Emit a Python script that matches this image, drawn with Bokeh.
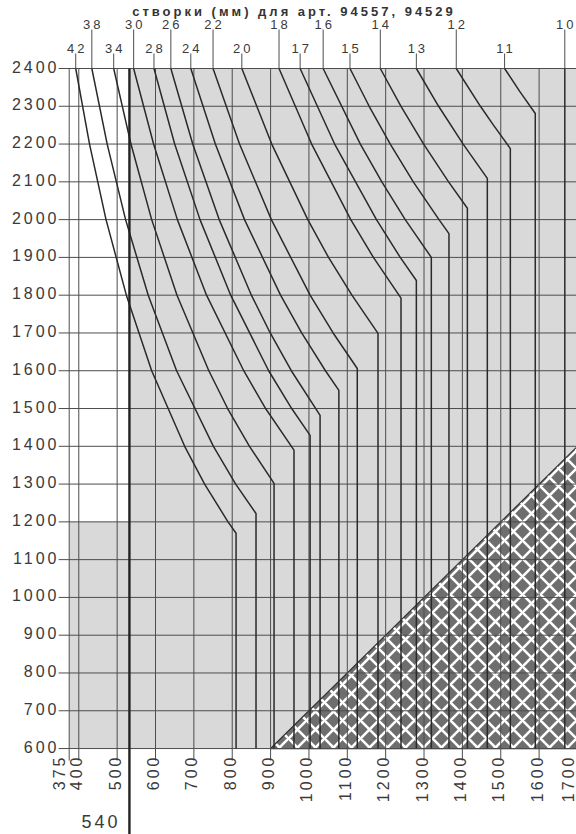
import math
from bokeh.plotting import figure
from bokeh.models import Range1d, InlineStyleSheet
from bokeh.core.properties import value
from bokeh.embed import file_html
from bokeh.resources import INLINE

# ---------------- data ----------------
title_text = "створки (мм) для арт. 94557, 94529"

y_ticks = [600, 700, 800, 900, 1000, 1100, 1200, 1300, 1400, 1500, 1600,
           1700, 1800, 1900, 2000, 2100, 2200, 2300, 2400]
x_grid = [400, 500, 600, 700, 800, 900, 1000, 1100, 1200, 1300, 1400,
          1500, 1600, 1700]
x_label_pos = [375, 400, 500, 600, 700, 800, 900, 1000, 1100, 1200, 1300,
               1400, 1500, 1600, 1700]
x_labels = ["375", "400", "500", "600", "700", "800", "900", "1000", "1100",
            "1200", "1300", "1400", "1500", "1600", "1700"]

area_w = [375, 1700]
area_h = [600, 2400]
split_w = 532          # thick line / white zone right edge (as drawn)
split_h = 1200         # white zone lower edge
split_label = "540"

hatch_w = [900, 1700, 1700]
hatch_h = [600, 600, 1400]

# curves: (width, height) points, last = corner
c42 = [(392, 2400), (428, 2200), (471, 2000), (524, 1800), (590, 1600), (676, 1400), (728, 1300), (789, 1200), (810, 1170)]
c38 = [(434, 2400), (474, 2200), (522, 2000), (581, 1800), (655, 1600), (751, 1400), (809, 1300), (862, 1222)]
c34 = [(491, 2400), (536, 2200), (590, 2000), (656, 1800), (739, 1600), (788, 1500), (845, 1400), (909, 1302)]
c30 = [(543, 2400), (595, 2200), (657, 2000), (733, 1800), (830, 1600), (887, 1500), (961, 1390)]
c28 = [(596, 2400), (650, 2200), (716, 2000), (796, 1800), (895, 1600), (955, 1500), (1003, 1429)]
c26 = [(640, 2400), (697, 2200), (766, 2000), (850, 1800), (899, 1700), (954, 1600), (1029, 1482)]
c24 = [(692, 2400), (756, 2200), (832, 2000), (926, 1800), (981, 1700), (1043, 1600), (1078, 1548)]
c22 = [(750, 2400), (819, 2200), (902, 2000), (1003, 1800), (1063, 1700), (1126, 1606)]
c20 = [(825, 2400), (903, 2200), (997, 2000), (1051, 1900), (1112, 1800), (1180, 1699)]
c18 = [(922, 2400), (1007, 2200), (1109, 2000), (1168, 1900), (1240, 1792)]
c17 = [(977, 2400), (1067, 2200), (1176, 2000), (1238, 1900), (1280, 1839)]
c16 = [(1037, 2400), (1134, 2200), (1190, 2100), (1251, 2000), (1319, 1900)]
c15 = [(1107, 2400), (1157, 2300), (1212, 2200), (1272, 2100), (1339, 2000), (1365, 1963)]
c14 = [(1186, 2400), (1240, 2300), (1299, 2200), (1364, 2100), (1413, 2030)]
c13 = [(1280, 2400), (1338, 2300), (1402, 2200), (1465, 2109)]
c12 = [(1384, 2400), (1447, 2300), (1481, 2250), (1525, 2188)]
c11 = [(1510, 2400), (1549, 2340), (1590, 2281)]
c10 = [(1667, 2400)]

curve_labels = [42, 38, 34, 30, 28, 26, 24, 22, 20, 18, 17, 16, 15, 14, 13, 12, 11, 10]
curve_pts = [c42, c38, c34, c30, c28, c26, c24, c22, c20, c18, c17, c16, c15, c14, c13, c12, c11, c10]
upper_row = [38, 30, 26, 22, 18, 16, 14, 12, 10]
lower_row = [42, 34, 28, 24, 20, 17, 15, 13, 11]

# ---------------- layout / style ----------------
W, H = 576, 834
PX_X0, PX_Y0 = 68.7, 68.0      # canvas pixel of (area_w[0], area_h[1])
KX, KY = 0.3836, 0.3778        # pixels per data unit
SP = 3                         # letter spacing (px)
x_start = area_w[0] - PX_X0 / KX
x_end = x_start + W / KX
y_end = area_h[1] + PX_Y0 / KY
y_start = y_end - H / KY

GRAY = "#d9d9d9"
LINE = "#4d4d4d"
CURVE = "#2a2a2a"
TEXT = "#3a3a3a"
FONT = value("Liberation Sans")

p = figure(width=W, height=H, x_range=Range1d(x_start, x_end),
           y_range=Range1d(y_start, y_end), output_backend="svg",
           toolbar_location=None, min_border=0, x_axis_location=None,
           y_axis_location=None, background_fill_color="white",
           border_fill_color="white", outline_line_color=None)
p.grid.visible = False
p.stylesheets = [InlineStyleSheet(css=":host { letter-spacing: %dpx; }" % SP)]

# shaded field
p.quad(left=[split_w, area_w[0]], right=[area_w[1], split_w],
       bottom=[area_h[0], area_h[0]], top=[area_h[1], split_h],
       fill_color=GRAY, line_color=None)

# hatched excluded triangle
p.patch(hatch_w, hatch_h, fill_color="#6e6e6e", line_color="#333333",
        line_width=1.2, hatch_pattern="diagonal_cross", hatch_color="white",
        hatch_weight=2.6, hatch_scale=18)

# horizontal grid lines with short outside ticks
n = len(y_ticks)
tick_x = 10.5 / KX
p.segment(x0=[area_w[0] - tick_x] * n, y0=y_ticks, x1=[area_w[1]] * n, y1=y_ticks,
          line_color=LINE, line_width=1)

# vertical grid lines with short outside ticks
vx = [area_w[0]] + x_grid
tick_y = 12 / KY
p.segment(x0=vx, y0=[area_h[0] - tick_y] * len(vx), x1=vx, y1=[area_h[1]] * len(vx),
          line_color=LINE, line_width=1)

# curves
for pts in curve_pts:
    xs = [w for w, h in pts] + [pts[-1][0]]
    ys = [h for w, h in pts] + [area_h[0]]
    p.line(xs, ys, line_color=CURVE, line_width=1.5)

# thick split line
p.segment(x0=[split_w], y0=[area_h[1]], x1=[split_w], y1=[y_start],
          line_color="#222222", line_width=2.4)

# curve labels above the field
start_w = {lab: pts[0][0] for lab, pts in zip(curve_labels, curve_pts)}
for row, tick_px, base_px in ((upper_row, 39, 44), (lower_row, 15, 20)):
    xs = [start_w[v] for v in row]
    p.segment(x0=xs, y0=[area_h[1]] * len(xs), x1=xs,
              y1=[area_h[1] + tick_px / KY] * len(xs),
              line_color=LINE, line_width=1)
    txt = [str(v) for v in row]
    p.text(x=xs, y=[area_h[1]] * len(xs), text=txt,
           text_align="center", text_baseline="alphabetic",
           x_offset=[-SP * (len(t) - 1) / 2 for t in txt], y_offset=-base_px,
           text_font=FONT, text_font_size="13px", text_color=TEXT)

# y tick labels (right edge ~13 px left of the field)
ytxt = [str(v) for v in y_ticks]
p.text(x=[area_w[0]] * n, y=y_ticks, text=ytxt,
       text_align="right", text_baseline="alphabetic",
       x_offset=[-12.7 - SP * (len(t) - 1) for t in ytxt],
       y_offset=-2, text_font=FONT, text_font_size="16px", text_color=TEXT)

# x tick labels (rotated, end ~9 px below the field)
xoff = [-10 if lab == "375" else (-9 if lab == "1700" else -2.5) for lab in x_labels]
yoff = [9 + SP * (len(t) - 1) for t in x_labels]
p.text(x=x_label_pos, y=[area_h[0]] * len(x_labels), text=x_labels,
       angle=math.pi / 2, text_align="right", text_baseline="alphabetic",
       x_offset=xoff, y_offset=yoff, text_font=FONT, text_font_size="16px",
       text_color=TEXT)

# split label
p.text(x=[split_w], y=[y_start], text=[split_label], text_align="right",
       text_baseline="alphabetic", x_offset=-12 - SP * (len(split_label) - 1),
       y_offset=-13, text_font=FONT, text_font_size="18px", text_color=TEXT)

# title at the top edge
title_x = x_start + 292 / KX
p.text(x=[title_x], y=[y_end - 11 / KY], text=[title_text], text_align="center",
       text_baseline="alphabetic", x_offset=-SP * (len(title_text) - 1) / 2,
       text_font=FONT, text_font_size="13px", text_font_style="bold",
       text_color="#333333")

open("out.html", "w").write(file_html(p, INLINE))
